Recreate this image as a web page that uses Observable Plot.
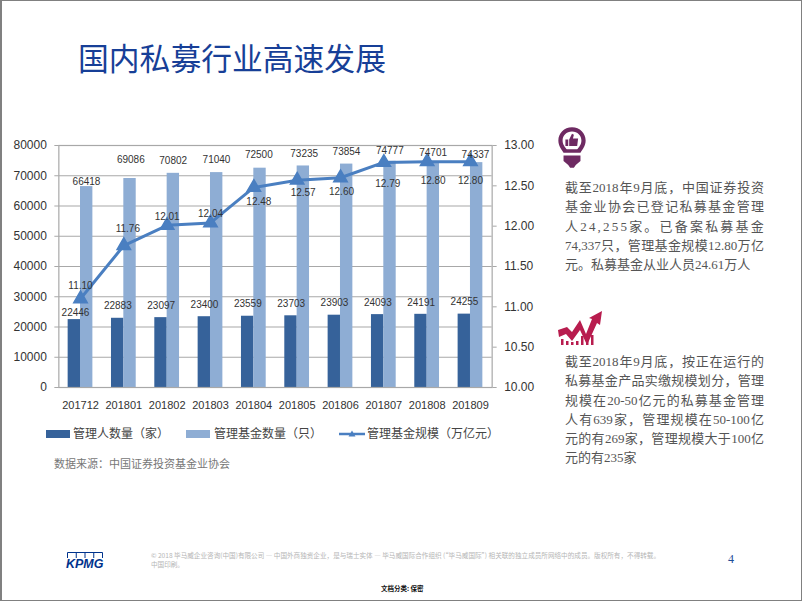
<!DOCTYPE html>
<html lang="zh">
<head>
<meta charset="utf-8">
<script src="https://cdn.jsdelivr.net/npm/d3@7"></script>
<script src="https://cdn.jsdelivr.net/npm/@observablehq/plot@0.6"></script>
<style>
html,body{margin:0;padding:0;background:#fff}
#slide{position:relative;width:802px;height:601px;overflow:hidden;background:#fff;font-family:"Liberation Sans","Noto Sans CJK SC",sans-serif}
#frame{position:absolute;inset:0;border-style:solid;border-color:#808080;border-width:1px 1px 1px 2px;box-sizing:border-box;pointer-events:none}
#chart{position:absolute;left:0;top:0}
#chart svg{font-family:"Liberation Sans","Noto Sans CJK SC",sans-serif}
.abs{position:absolute;white-space:nowrap}
h1{position:absolute;left:78px;top:35px;margin:0;font:400 30.8px/44px "Noto Sans CJK SC",sans-serif;color:#173f97}
.legend{font:12px/16px "Noto Sans CJK SC",sans-serif;color:#444;top:425px}
.swatch{position:absolute;top:430px;width:24px;height:8px}
.source{left:54px;top:455px;font:11px/16px "Noto Sans CJK SC",sans-serif;color:#777}
.note{position:absolute;left:565px;width:199px;font:13px/19.3px "Liberation Serif","Noto Sans CJK SC",serif;color:#555}
.note div{text-align:justify;text-align-last:justify;text-justify:inter-character;white-space:nowrap}
.note div.last{text-align-last:left}
.note div.spread{text-align-last:left;letter-spacing:2.2px;text-autospace:no-autospace}
.copy{left:151px;font:6.6px/9px "Noto Sans CJK SC",sans-serif;color:#b5b5b5}
.kpmg{left:66px;top:557px;font:italic 700 12.5px/14px "Liberation Sans",sans-serif;color:#00338d}
</style>
</head>
<body>
<div id="slide">
  <div id="chart"></div>
  <h1>国内私募行业高速发展</h1>

  <div class="swatch" style="left:46px;background:#36629a"></div>
  <div class="abs legend" style="left:73px">管理人数量（家）</div>
  <div class="swatch" style="left:186px;background:#8eadd4"></div>
  <div class="abs legend" style="left:214px">管理基金数量（只）</div>
  <svg class="abs" style="left:338px;top:428px" width="28" height="12"><line x1="1" x2="27" y1="6" y2="6" stroke="#4a7fc1" stroke-width="2.5"/><path d="M14 2.5l3.5 6h-7z" fill="#4a7fc1"/></svg>
  <div class="abs legend" style="left:367px">管理基金规模（万亿元）</div>
  <div class="abs source">数据来源：中国证券投资基金业协会</div>

  <svg class="abs" style="left:556px;top:124px" width="32" height="46" viewBox="0 0 34 46">
    <path d="M17 2C8.5 2 2.5 8.5 2.5 16c0 6 3.5 9.5 5.5 13h18c2-3.500 5.500-7 5.500-13C31.500 8.500 25.500 2 17 2zM17 6.500c6 0 10 4.500 10 9.500 0 4.500-3 7.500-4.500 9.500h-11C10 23.500 7 20.500 7 16c0-5 4-9.500 10-9.500z" fill="#6e2a62"/>
    <path d="M10 15h3v7h-3zM14 15l3-6 2 1-1 4h5.500l-1 8H14z" fill="#6e2a62"/>
    <path d="M8 32h18v6l-5 4-2 3h-4l-2-3-5-4z" fill="#6e2a62"/>
  </svg>
  <div class="note" style="top:178px">
    <div>截至2018年9月底，中国证券投资</div>
    <div>基金业协会已登记私募基金管理</div>
    <div class="spread">人24,255家。已备案私募基金</div>
    <div>74,337只，管理基金规模12.80万亿</div>
    <div class="last">元。私募基金从业人员24.61万人</div>
  </div>

  <svg class="abs" style="left:557px;top:308px" width="46" height="38" viewBox="0 0 46 38">
    <path d="M1 22l9-3 5 5 8-12 6 14 6-15-3-1 13-7-2 14-3-2-10 22-7-15-8 11-6-7-7 3z" fill="#b81c4e"/>
    <path d="M4 31h2.500v6H4zM9 33h2.500v4H9zM14 34h2.500v3H14zM19 33h2.500v4H19zM24 28h2.500v9H24zM29 30h2.500v7H29zM34 27h2.500v10H34z" fill="#b81c4e"/>
  </svg>
  <div class="note" style="top:352px">
    <div>截至2018年9月底，按正在运行的</div>
    <div>私募基金产品实缴规模划分，管理</div>
    <div>规模在20-50亿元的私募基金管理</div>
    <div>人有639家，管理规模在50-100亿</div>
    <div>元的有269家，管理规模大于100亿</div>
    <div class="last">元的有235家</div>
  </div>

  <svg class="abs" style="left:67px;top:552px" width="36" height="7"><path d="M.5 6V.5h35V6M9.250 .5V6M18 .5V6M26.750 .5V6" fill="none" stroke="#00338d" stroke-width="1"/></svg>
  <div class="abs kpmg">KPMG</div>
  <div class="abs copy" style="top:551px">© 2018 毕马威企业咨询(中国)有限公司 — 中国外商独资企业，是与瑞士实体 — 毕马威国际合作组织 (“毕马威国际”) 相关联的独立成员所网络中的成员。版权所有，不得转载。</div>
  <div class="abs copy" style="top:560px">中国印刷。</div>
  <div class="abs" style="left:728px;top:551px;font:12px/16px 'Liberation Serif',serif;color:#1f4e96">4</div>
  <div class="abs" style="left:381px;top:584px;font:700 6.500px/9px 'Noto Sans CJK SC',sans-serif;color:#111">文档分类: 保密</div>
  <div id="frame"></div>
</div>
<script>
const months = ["201712","201801","201802","201803","201804","201805","201806","201807","201808","201809"];
const managers = [22446,22883,23097,23400,23559,23703,23903,24093,24191,24255];
const funds = [66418,69086,70802,71040,72500,73235,73854,74777,74701,74337];
const scale = [11.10,11.76,12.01,12.04,12.48,12.57,12.60,12.79,12.80,12.80];
const leftTicks = [0,10000,20000,30000,40000,50000,60000,70000,80000];
const rightTicks = [10,10.5,11,11.5,12,12.5,13];

// Label nudges, in pixels, one per month
const managerNudge = [[-5,-7],[-6,-12],[-6,-12],[-6,-12],[-6,-12],[-6,-12],[-6,-12],[-6,-12],[-6,-12],[-6,-12]];
const fundNudge = [[6,-5],[7,-19],[6,-13],[6,-13],[5,-13],[7,-12],[6,-12],[6,-11],[6,-9],[5,-8]];
const scaleNudge = [[0,-13],[4,-17],[0,-9],[0,-9],[5,14],[6,13],[1,14],[4,21],[6,19],[0,19]];

// Secondary axis shares the primary y scale through this linear conversion
const toLeft = d3.scaleLinear([10,13],[0,80000]);

const rows = months.map((month,i)=>({month,managers:managers[i],funds:funds[i],scale:scale[i],scaleY:toLeft(scale[i]),i}));
const labelStyle = {fontSize:10,fill:"#333"};
const labels = (field,nudge,fmt)=>rows.map((d,i)=>Plot.text([d],{x:"month",y:field==="scale"?"scaleY":field,text:()=>fmt(d[field]),dx:nudge[i][0],dy:nudge[i][1],...labelStyle}));

const chart = Plot.plot({
  width:802,height:601,
  marginLeft:58.35,marginRight:310.35,marginTop:145,marginBottom:214,
  style:{background:"transparent",color:"#333",overflow:"visible"},
  x:{type:"band",domain:months,padding:0,round:false,label:null},
  y:{domain:[0,80000],label:null},
  marks:[
    Plot.gridY(leftTicks,{stroke:"#a8a8a8",strokeOpacity:1,strokeWidth:1.200}),
    Plot.barY(rows,{x:"month",y:"managers",fill:"#36629a",insetLeft:9.3,insetRight:21.65}),
    Plot.barY(rows,{x:"month",y:"funds",fill:"#8eadd4",insetLeft:21.65,insetRight:9.3}),
    Plot.frame({stroke:"#a8a8a8",strokeWidth:1.200}),
    Plot.axisY(leftTicks,{anchor:"left",tickSize:4,tickPadding:8,fontSize:12,stroke:"#a8a8a8",color:"#333",tickFormat:d=>String(d),label:null}),
    Plot.axisY(rightTicks.map(v=>toLeft(v)),{anchor:"right",tickSize:4,tickPadding:8,fontSize:12,stroke:"#a8a8a8",tickFormat:d=>toLeft.invert(d).toFixed(2),label:null}),
    Plot.axisX({tickSize:0,tickPadding:14,fontSize:11,label:null}),
    Plot.line(rows,{x:"month",y:"scaleY",stroke:"#4a7fc1",strokeWidth:3,curve:"linear"}),
    Plot.dot(rows,{x:"month",y:"scaleY",symbol:"triangle",r:5,fill:"#4a7fc1",stroke:"#4a7fc1"}),
    ...labels("managers",managerNudge,String),
    ...labels("funds",fundNudge,String),
    ...labels("scale",scaleNudge,v=>v.toFixed(2))
  ]
});
document.getElementById("chart").appendChild(chart);
</script>
</body>
</html>
